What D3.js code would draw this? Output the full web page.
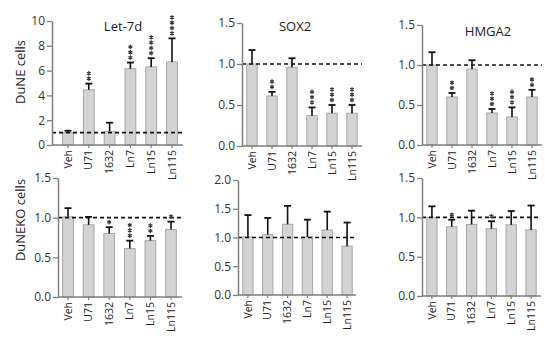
<!DOCTYPE html>
<html><head><meta charset="utf-8">
<script src="https://cdn.jsdelivr.net/npm/d3@7"></script>
<style>body{margin:0;background:#fff}svg{display:block}text{font-family:"Open Sans",sans-serif}</style>
</head><body><svg id="c" width="550" height="340"></svg>
<script>
const categories = ["Veh","U71","1632","Ln7","Ln15","Ln115"];
const let7dMean = [1.0, 4.45, 1.1, 6.15, 6.3, 6.7];
const let7dErr  = [0.15, 0.5, 0.7, 0.5, 0.7, 1.9];
const let7dSig  = ["", "**", "", "***", "****", "****"];
const sox2Mean = [1.0, 0.61, 0.96, 0.37, 0.40, 0.40];
const sox2Err  = [0.17, 0.05, 0.11, 0.10, 0.10, 0.10];
const sox2Sig  = ["", "**", "", "***", "***", "***"];
const hmga2Mean = [1.0, 0.60, 0.95, 0.40, 0.35, 0.60];
const hmga2Err  = [0.16, 0.05, 0.11, 0.05, 0.12, 0.09];
const hmga2Sig  = ["", "**", "", "***", "***", "**"];
const koLet7dMean = [1.01, 0.91, 0.80, 0.61, 0.71, 0.85];
const koLet7dErr  = [0.11, 0.10, 0.08, 0.10, 0.06, 0.10];
const koLet7dSig  = ["", "", "*", "***", "**", "*"];
const koSox2Mean = [1.01, 1.05, 1.23, 1.01, 1.13, 0.85];
const koSox2Err  = [0.38, 0.29, 0.32, 0.30, 0.32, 0.41];
const koSox2Sig  = ["", "", "", "", "", ""];
const koHmga2Mean = [1.0, 0.88, 0.91, 0.855, 0.905, 0.84];
const koHmga2Err  = [0.14, 0.09, 0.175, 0.095, 0.175, 0.31];
const koHmga2Sig  = ["", "*", "", "*", "", ""];
const ticksLet7d = [0, 2, 4, 6, 8, 10];
const ticks15 = [0, 0.5, 1.0, 1.5];
const ticks20 = [0, 0.5, 1.0, 1.5, 2.0];
const titles = ["Let-7d", "SOX2", "HMGA2"];
const rowLabels = ["DuNE cells", "DuNEKO cells"];

const panels = [
  {mean: let7dMean, err: let7dErr, sig: let7dSig, ticks: ticksLet7d, max: 10, fmt: d3.format("d"),
   ax: 52, y0: 145, yT: 21, b0: 57.6, b1: 182.4, xEnd: 183, title: titles[0], tx: 123, ty: 31},
  {mean: sox2Mean, err: sox2Err, sig: sox2Sig, ticks: ticks15, max: 1.5, fmt: d3.format(".1f"),
   ax: 242, y0: 146, yT: 23, b0: 242, b1: 362, xEnd: 362, title: titles[1], tx: 295, ty: 31},
  {mean: hmga2Mean, err: hmga2Err, sig: hmga2Sig, ticks: ticks15, max: 1.5, fmt: d3.format(".1f"),
   ax: 422, y0: 145, yT: 25, b0: 422, b1: 542, xEnd: 542, title: titles[2], tx: 488, ty: 36},
  {mean: koLet7dMean, err: koLet7dErr, sig: koLet7dSig, ticks: ticks15, max: 1.5, fmt: d3.format(".1f"),
   ax: 58, y0: 297, yT: 178, b0: 57.7, b1: 181.3, xEnd: 182},
  {mean: koSox2Mean, err: koSox2Err, sig: koSox2Sig, ticks: ticks20, max: 2.0, fmt: d3.format(".1f"),
   ax: 238, y0: 295, yT: 180, b0: 238, b1: 357, xEnd: 356},
  {mean: koHmga2Mean, err: koHmga2Err, sig: koHmga2Sig, ticks: ticks15, max: 1.5, fmt: d3.format(".1f"),
   ax: 422, y0: 296, yT: 178, b0: 422, b1: 541, xEnd: 541}
];

const svg = d3.select("#c");
const axisCol = "#7f7f7f";
const starType = d3.symbolAsterisk || d3.symbolStar;
const starPath = d3.symbol().type(starType).size(14)();

panels.forEach(p => {
  const g = svg.append("g");
  const y = d3.scaleLinear().domain([0, p.max]).range([p.y0, p.yT]);
  const x = d3.scaleBand().domain(categories).range([p.b0, p.b1]).paddingInner(0.48).paddingOuter(0.24);
  const bw = x.bandwidth();

  g.selectAll("rect.bar").data(categories).join("rect")
    .attr("x", (c) => x(c)).attr("width", bw)
    .attr("y", (c, i) => y(p.mean[i])).attr("height", (c, i) => p.y0 - y(p.mean[i]))
    .attr("fill", "#d3d3d3").attr("stroke", "#a6a6a6").attr("stroke-width", 1);

  g.selectAll("line.err").data(categories).join("line")
    .attr("x1", c => x(c) + bw / 2).attr("x2", c => x(c) + bw / 2)
    .attr("y1", (c, i) => y(p.mean[i])).attr("y2", (c, i) => y(p.mean[i] + p.err[i]))
    .attr("stroke", "#111").attr("stroke-width", 1.6);
  g.selectAll("line.cap").data(categories).join("line")
    .attr("x1", c => x(c) + bw / 2 - 3.5).attr("x2", c => x(c) + bw / 2 + 3.5)
    .attr("y1", (c, i) => y(p.mean[i] + p.err[i])).attr("y2", (c, i) => y(p.mean[i] + p.err[i]))
    .attr("stroke", "#111").attr("stroke-width", 1.8);

  g.append("line").attr("x1", p.ax).attr("x2", p.xEnd).attr("y1", y(1)).attr("y2", y(1))
    .attr("stroke", "#111").attr("stroke-width", 1.6).attr("stroke-dasharray", "4,3");

  const stars = [];
  categories.forEach((c, i) => {
    for (let k = 0; k < p.sig[i].length; k++) {
      stars.push({cx: x(c) + bw / 2, cy: y(p.mean[i] + p.err[i]) - 5 - k * 5.3});
    }
  });
  g.selectAll("path.star").data(stars).join("path")
    .attr("d", starPath).attr("transform", d => `translate(${d.cx},${d.cy})`)
    .attr("fill", "#3a3a3a").attr("stroke", "#3a3a3a").attr("stroke-width", 1.2);

  const ya = d3.axisLeft(y).tickValues(p.ticks).tickFormat(p.fmt).tickSize(5).tickSizeOuter(0);
  const yg = g.append("g").attr("transform", `translate(${p.ax},0)`).call(ya);
  yg.select(".domain").attr("stroke", axisCol).attr("stroke-width", 1.5);
  yg.selectAll(".tick line").attr("stroke", axisCol).attr("stroke-width", 1.3);
  yg.selectAll(".tick text").attr("font-size", 12).attr("fill", "#333").attr("font-family", "Open Sans").attr("x", -7);

  g.append("line").attr("x1", p.ax).attr("x2", p.xEnd).attr("y1", p.y0).attr("y2", p.y0)
    .attr("stroke", axisCol).attr("stroke-width", 1.5);
  g.selectAll("line.xt").data(categories).join("line")
    .attr("x1", c => x(c) + bw / 2).attr("x2", c => x(c) + bw / 2)
    .attr("y1", p.y0).attr("y2", p.y0 + 3).attr("stroke", axisCol).attr("stroke-width", 1.2);
  g.selectAll("text.xl").data(categories).join("text")
    .attr("transform", c => `translate(${x(c) + bw / 2},${p.y0 + 5}) rotate(-90)`)
    .attr("text-anchor", "end").attr("dy", "0.35em").attr("font-size", 10.5).attr("fill", "#222")
    .text(c => c);

  if (p.title) {
    g.append("text").attr("x", p.tx).attr("y", p.ty).attr("text-anchor", "middle")
      .attr("font-size", 13).attr("fill", "#222").text(p.title);
  }
});

svg.append("text").attr("transform", "translate(25,72) rotate(-90)").attr("text-anchor", "middle")
  .attr("font-size", 13).attr("fill", "#222").text(rowLabels[0]);
svg.append("text").attr("transform", "translate(25,220) rotate(-90)").attr("text-anchor", "middle")
  .attr("font-size", 13).attr("fill", "#222").text(rowLabels[1]);
</script></body></html>
